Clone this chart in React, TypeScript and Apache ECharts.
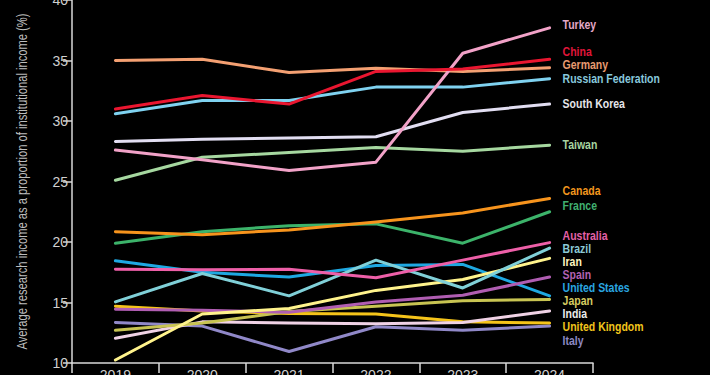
import React, { useEffect, useRef } from "react";
import * as echarts from "echarts";

const years = ["2019", "2020", "2021", "2022", "2023", "2024"];
const yTicks = [10, 15, 20, 25, 30, 35, 40];
const yAxisTitle = "Average research income as a proportion of institutional income (%)";

const countries = [
  "Turkey", "China", "Germany", "Russian Federation", "South Korea", "Taiwan",
  "Canada", "France", "Australia", "Brazil", "Iran", "Spain", "United States",
  "Japan", "India", "United Kingdom", "Italy",
];

const turkey = [27.6, 26.8, 25.9, 26.6, 35.6, 37.7];
const china = [31.0, 32.1, 31.4, 34.1, 34.3, 35.1];
const germany = [35.0, 35.1, 34.0, 34.35, 34.1, 34.4];
const russia = [30.6, 31.7, 31.7, 32.8, 32.8, 33.5];
const southKorea = [28.3, 28.5, 28.6, 28.7, 30.7, 31.4];
const taiwan = [25.1, 27.0, 27.4, 27.8, 27.5, 28.0];
const canada = [20.85, 20.6, 21.0, 21.65, 22.4, 23.6];
const france = [19.9, 20.85, 21.35, 21.5, 19.9, 22.5];
const australia = [17.75, 17.7, 17.75, 17.05, 18.5, 19.95];
const brazil = [15.05, 17.4, 15.55, 18.5, 16.2, 19.5];
const iran = [10.25, 14.05, 14.5, 16.0, 16.9, 18.65];
const spain = [14.45, 14.35, 14.2, 15.05, 15.6, 17.1];
const unitedStates = [18.45, 17.5, 17.1, 18.05, 18.15, 15.55];
const japan = [12.7, 13.3, 14.25, 14.7, 15.15, 15.25];
const india = [12.05, 13.4, 13.3, 13.25, 13.35, 14.3];
const unitedKingdom = [14.7, 14.3, 14.1, 14.05, 13.4, 13.3];
const italy = [13.35, 13.05, 10.95, 13.0, 12.7, 13.05];

const seriesValues = [
  turkey, china, germany, russia, southKorea, taiwan, canada, france, australia,
  brazil, iran, spain, unitedStates, japan, india, unitedKingdom, italy,
];

// label anchor heights, in axis units
const labelLevels = [
  38.0, 35.73, 34.63, 33.53, 31.46, 28.02, 24.21, 22.98, 20.52, 19.42, 18.37,
  17.27, 16.22, 15.15, 14.05, 13.0, 11.84,
];

const lineColors = [
  "#f2a2c8", "#ea1630", "#f4a072", "#7fd2f0", "#e2def2", "#a6d8a0", "#f7941d",
  "#3cb36a", "#ee5fa8", "#80d0d8", "#fff38c", "#b05db2", "#1ea8e2", "#c8c452",
  "#f0d2e6", "#f5c41a", "#9088c8",
];

const labelColors = [
  "#e4a8c8", "#e0163a", "#e89a70", "#88c8dc", "#e6e6ea", "#a8d4a0", "#f0961e",
  "#40b070", "#e560a8", "#8ccad6", "#fff6c0", "#b462b4", "#2aa6e0", "#d6cc60",
  "#ececec", "#f0c41c", "#8c88c4",
];

const drawOrder = [16, 15, 14, 13, 12, 11, 10, 9, 8, 7, 6, 5, 4, 3, 2, 0, 1];

const FONT = "'Liberation Sans', Arial, sans-serif";

export default function App() {
  const ref = useRef<HTMLDivElement>(null);

  useEffect(() => {
    document.body.style.margin = "0";
    document.body.style.background = "#000";
    const chart = echarts.init(ref.current!, null, { renderer: "svg" });
    const option: any = {
      animation: false,
      backgroundColor: "#000",
      grid: {
        left: 72,
        right: 117,
        top: 0,
        bottom: 12,
        containLabel: false,
        outerBoundsMode: "none",
      },
      xAxis: {
        type: "category",
        data: years,
        boundaryGap: true,
        axisLine: { lineStyle: { color: "#d8d8d8", width: 1.5 } },
        axisTick: { show: true, length: 10, lineStyle: { color: "#d8d8d8", width: 1.5 } },
        axisLabel: { color: "#d0d0d0", fontSize: 14, margin: 5, fontFamily: FONT },
        splitLine: { show: false },
      },
      yAxis: {
        type: "value",
        min: yTicks[0],
        max: yTicks[yTicks.length - 1],
        interval: 5,
        axisLine: { show: true, lineStyle: { color: "#d8d8d8", width: 1.5 } },
        axisTick: { show: true, length: 9, lineStyle: { color: "#d8d8d8", width: 1.5 } },
        axisLabel: { color: "#d0d0d0", fontSize: 14, margin: 4, fontFamily: FONT },
        splitLine: { show: false },
      },
      series: drawOrder.map((i) => ({
        name: countries[i],
        type: "line",
        data: seriesValues[i],
        symbol: "none",
        lineStyle: { color: lineColors[i], width: 3, cap: "round", join: "round" },
        z: 2,
      })),
    };
    chart.setOption(option);

    const last = years.length - 1;
    const graphic: any[] = countries.map((c, i) => {
      const p = chart.convertToPixel({ gridIndex: 0 }, [last, labelLevels[i]]) as number[];
      return {
        type: "text",
        x: p[0] + 13,
        y: p[1],
        scaleX: 0.84,
        style: {
          text: c,
          fill: labelColors[i],
          fontSize: 12.5,
          fontFamily: FONT,
          fontWeight: "bold",
          verticalAlign: "middle",
          align: "left",
        },
      };
    });
    const top = chart.convertToPixel({ gridIndex: 0 }, [0, yTicks[yTicks.length - 1]]) as number[];
    const bottom = chart.convertToPixel({ gridIndex: 0 }, [0, yTicks[0]]) as number[];
    graphic.push({
      type: "text",
      x: 23,
      y: (top[1] + bottom[1]) / 2,
      rotation: Math.PI / 2,
      scaleX: 0.8,
      style: {
        text: yAxisTitle,
        fill: "#bdbdbd",
        fontSize: 14,
        fontFamily: FONT,
        align: "center",
        verticalAlign: "middle",
      },
    });
    chart.setOption({ graphic });

    return () => chart.dispose();
  }, []);

  return (
    <div
      ref={ref}
      style={{ position: "fixed", left: 0, top: 0, width: 710, height: 375, background: "#000" }}
    />
  );
}
